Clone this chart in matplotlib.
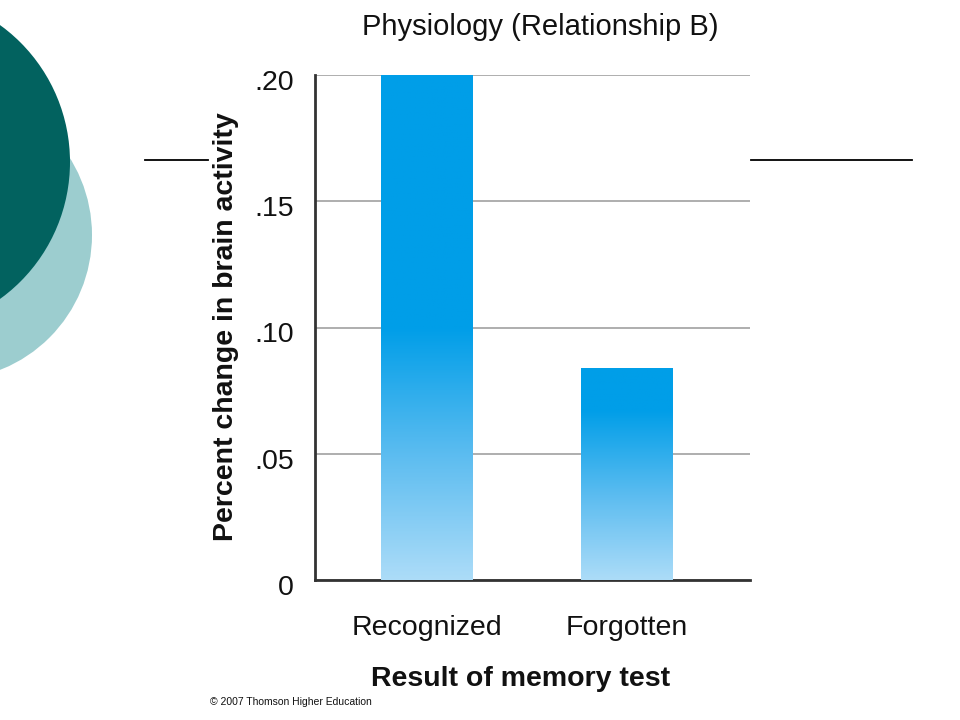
import numpy as np
import matplotlib
matplotlib.use("Agg")
from matplotlib import pyplot as plt
from matplotlib.patches import Circle
from matplotlib.lines import Line2D
from matplotlib.colors import LinearSegmentedColormap
import matplotlib.transforms as mtrans

plt.rcParams['font.family'] = ['Liberation Sans', 'DejaVu Sans']

# data
categories = ['Recognized', 'Forgotten']
values = [0.200, 0.084]
ytick_vals = [0, 0.05, 0.10, 0.15, 0.20]
ytick_labels = ['0', '.05', '.10', '.15', '.20']

title = 'Physiology (Relationship B)'
ylabel = 'Percent change in brain activity'
xlabel = 'Result of memory test'
credit = '\u00a9 2007 Thomson Higher Education'

W, H = 960, 720
fig = plt.figure(figsize=(W / 100, H / 100), dpi=100)
fig.patch.set_facecolor('white')

# slide decoration, in pixel coords (y from top)
def px(x, y):
    return x / W, 1 - y / H

deco = fig.add_axes([0, 0, 1, 1], zorder=-5)
deco.set_xlim(0, W)
deco.set_ylim(H, 0)
deco.set_aspect('auto')
deco.axis('off')
deco.add_patch(Circle((-53, 235), 145, color='#9ccdcf', lw=0))
deco.add_patch(Circle((-99, 162), 169, color='#02625f', lw=0))
deco.add_line(Line2D([145, 208], [160, 160], color='black', lw=1.3))
deco.add_line(Line2D([751, 912], [160, 160], color='black', lw=1.3))

ax = fig.add_axes([315 / W, 1 - 580 / H, 435 / W, 505 / H])
x = np.arange(len(categories))
bar_w = 0.46

cmap = LinearSegmentedColormap.from_list('bar', ['#acdcf8', '#5bbcf0', '#009ee8'])
bars = ax.bar(x, values, width=bar_w, color='none', zorder=3)
for b, v in zip(bars, values):
    grad_top = min(0.10, 0.8 * v)
    ys = np.linspace(0, v, 300)
    col = np.clip(ys / grad_top, 0, 1)[:, None]
    im = ax.imshow(col, cmap=cmap, vmin=0, vmax=1, origin='lower', aspect='auto',
                   extent=[b.get_x(), b.get_x() + b.get_width(), 0, v], zorder=3)
    im.set_clip_path(b)
ax.set_xlim(-0.56, 1.615)
ax.set_ylim(0, 0.2)

ax.set_yticks(ytick_vals)
ax.set_yticklabels(ytick_labels, fontsize=20.5)
ax.set_xticks(x)
ax.set_xticklabels(categories, fontsize=20.5)
ax.tick_params(length=0)
ax.tick_params(axis='y', pad=15)
ax.tick_params(axis='x', pad=25)
shift = mtrans.ScaledTranslation(0, -5 / 100, fig.dpi_scale_trans)
for t in ax.get_yticklabels():
    t.set_color('#111111')
    t.set_transform(t.get_transform() + shift)
for t in ax.get_xticklabels():
    t.set_color('#111111')
ax.grid(axis='y', color='#a8a8a8', lw=1.3, zorder=1)
ax.spines['top'].set_visible(False)
ax.spines['right'].set_visible(False)
ax.spines['left'].set_color('#333333')
ax.spines['left'].set_linewidth(2)
ax.spines['bottom'].set_color('#333333')
ax.spines['bottom'].set_linewidth(2)

fig.text(*px(540, 27), title, fontsize=21, ha='center', va='center', color='#111111')
fig.text(*px(226, 327), ylabel, fontsize=20.5, fontweight='bold', rotation=90,
         ha='center', va='center', color='#111111')
fig.text(*px(521, 679), xlabel, fontsize=20.5, fontweight='bold', ha='center', va='center',
         color='#111111')
fig.text(*px(210, 702), credit, fontsize=7.5, ha='left', va='center', color='#111111')

fig.savefig('out.png', dpi=100)
